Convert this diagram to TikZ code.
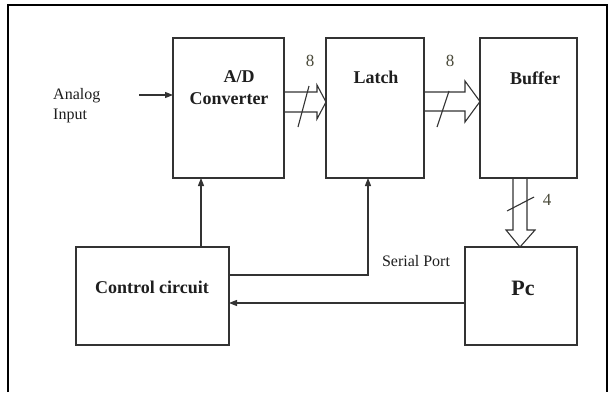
\documentclass[tikz,border=0pt]{standalone}
\usepackage{fontspec}
\setmainfont{Liberation Serif}
\usetikzlibrary{arrows.meta,calc}
\definecolor{ink}{HTML}{333333}
\definecolor{txt}{HTML}{1E1E1E}
\definecolor{numc}{HTML}{4A4A3A}
\tikzset{
  box/.style={draw=ink, line width=1.3pt, inner sep=0pt, outer sep=0pt, fill=none},
  btxt/.style={font=\fontsize{18}{20}\selectfont\bfseries, text=txt, inner sep=0pt},
  rtxt/.style={font=\fontsize{16}{18}\selectfont, text=txt, inner sep=0pt},
  ntxt/.style={font=\fontsize{17}{19}\selectfont, text=numc, inner sep=0pt},
  arr/.style={draw=ink, line width=1.2pt, -{Triangle[length=8pt,width=6pt]}},
  hollow/.style={draw=ink, line width=1.1pt, line join=miter},
  slash/.style={draw=ink, line width=1.1pt}
}
\begin{document}
\begin{tikzpicture}[x=1pt,y=-1pt]
\useasboundingbox (0,0) rectangle (612,392);
% outer frame (bottom edge outside the picture)
\draw[line width=2pt, black] (8,392) -- (8,5) -- (607,5) -- (607,392);

% boxes
\node[box, minimum width=111pt, minimum height=140pt] (ad) at (228.5,108) {};
\node[box, minimum width=98pt, minimum height=140pt] (latch) at (375,108) {};
\node[box, minimum width=97pt, minimum height=140pt] (buf) at (528.5,108) {};
\node[box, minimum width=153pt, minimum height=98pt] (ctrl) at (152.5,296) {};
\node[box, minimum width=112pt, minimum height=98pt] (pc) at (521,296) {};

% labels
\node[btxt] (adt1) at (239,77) {A/D};
\node[btxt] (adt2) at (229,99) {Converter};
\node[btxt] (latcht) at (376,77) {Latch};
\node[btxt] (buft) at (535,78) {Buffer};
\node[btxt] (ctrlt) at (152,287) {Control circuit};
\node[font=\fontsize{22}{24}\selectfont\bfseries, text=txt, inner sep=0pt] (pct) at (523,288) {Pc};
\node[rtxt, anchor=west] (an1) at (53,96) {Analog};
\node[rtxt, anchor=west] (an2) at (53,116) {Input};
\node[rtxt] (sp) at (416,261) {Serial Port};
\node[ntxt] (n8a) at (310,61) {8};
\node[ntxt] (n8b) at (450,61) {8};
\node[ntxt] (n4) at (547,200) {4};

% analog input arrow
\coordinate (ain) at (139,95);
\draw[arr] (ain) -- (ad.west |- ain);

% control -> A/D
\coordinate (cx) at (201,0);
\draw[arr] (ctrl.north -| cx) -- (ad.south -| cx);

% control -> latch
\coordinate (lx) at (368,275);
\draw[arr] (ctrl.east |- lx) -| (latch.south -| lx);

% Pc -> control
\coordinate (py) at (0,303);
\draw[arr] (pc.west |- py) -- (ctrl.east |- py);

% hollow bus arrow A/D -> Latch
\draw[hollow] (ad.east |- 0,92) -- (317,92) -- (317,85) -- (latch.west |- 0,102) -- (317,119) -- (317,112) -- (ad.east |- 0,112);
\draw[slash] (298,127) -- (309,86);

% hollow bus arrow Latch -> Buffer
\draw[hollow] (latch.east |- 0,92) -- (465,92) -- (465,81) -- (buf.west |- 0,101.5) -- (465,122) -- (465,111) -- (latch.east |- 0,111);
\draw[slash] (437,127) -- (449,91);

% hollow bus arrow Buffer -> Pc
\draw[hollow] (buf.south -| 513,0) -- (513,230) -- (506,230) -- (pc.north -| 520,0) -- (535,230) -- (527,230) -- (buf.south -| 527,0);
\draw[slash] (507,211) -- (534,197);
\end{tikzpicture}
\end{document}
